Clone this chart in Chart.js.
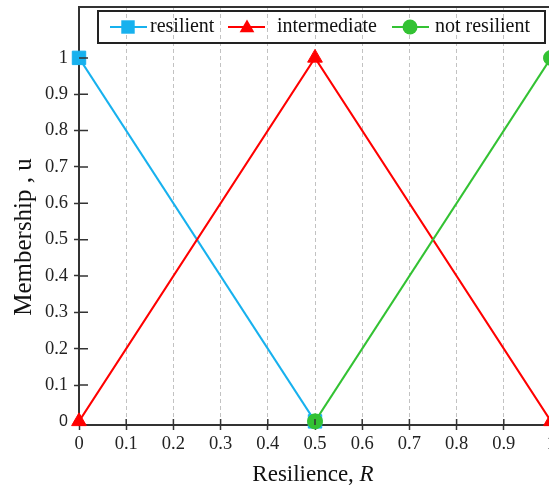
<!DOCTYPE html>
<html>
<head>
<meta charset="utf-8">
<script src="https://cdn.jsdelivr.net/npm/chart.js@4.4.1/dist/chart.umd.min.js"></script>
<style>
  html, body { margin: 0; padding: 0; background: #ffffff; overflow: hidden; }
  #wrap { width: 560px; height: 491px; }
</style>
</head>
<body>
<div id="wrap"><canvas id="chart" width="560" height="491"></canvas></div>
<script>
// Membership functions of the three resilience classes
const seriesNames = ['resilient', 'intermediate', 'not resilient'];

const resilientR = [0, 0.5];
const resilientU = [1, 0];

const intermediateR = [0, 0.5, 1];
const intermediateU = [0, 1, 0];

const notResilientR = [0.5, 1];
const notResilientU = [0, 1];

const xTickValues = [0, 0.1, 0.2, 0.3, 0.4, 0.5, 0.6, 0.7, 0.8, 0.9, 1];
const yTickValues = [0, 0.1, 0.2, 0.3, 0.4, 0.5, 0.6, 0.7, 0.8, 0.9, 1];

const xTitle = 'Resilience, ';
const xTitleVar = 'R';
const yTitle = 'Membership , u';

const BLUE = '#17B1EE';
const RED = '#FF0000';
const GREEN = '#33C233';
const AXIS = '#333333';
const SERIF = '"Liberation Serif", "Times New Roman", serif';
const SANS = '"Liberation Sans", Arial, sans-serif';

const toPoints = (xs, ys) => xs.map((x, i) => ({ x: x, y: ys[i] }));
const fmt = v => String(Math.round(v * 10) / 10);

const seriesStyles = [
  { color: BLUE, pointStyle: 'rect', radius: 9.5 },
  { color: RED, pointStyle: 'triangle', radius: 8.5 },
  { color: GREEN, pointStyle: 'circle', radius: 7.5 }
];

function makeDataset(i, points, order) {
  const s = seriesStyles[i];
  return {
    label: seriesNames[i],
    data: points,
    borderColor: s.color,
    backgroundColor: s.color,
    borderWidth: 2,
    pointStyle: s.pointStyle,
    pointRadius: s.radius,
    pointHoverRadius: s.radius,
    pointBackgroundColor: s.color,
    pointBorderColor: s.color,
    pointBorderWidth: 1,
    tension: 0,
    clip: false,
    order: order
  };
}

// draws a legend marker shaped like the dataset's point style
function legendMarker(ctx, style, x, y, r, color) {
  ctx.save();
  ctx.fillStyle = color;
  ctx.beginPath();
  if (style === 'rect') {
    const h = Math.SQRT1_2 * r;
    ctx.rect(x - h, y - h, 2 * h, 2 * h);
  } else if (style === 'triangle') {
    for (let k = 0; k < 3; k++) {
      const a = k * 2 * Math.PI / 3;
      const px = x + Math.sin(a) * r, py = y - Math.cos(a) * r;
      if (k === 0) ctx.moveTo(px, py); else ctx.lineTo(px, py);
    }
    ctx.closePath();
  } else {
    ctx.arc(x, y, r, 0, Math.PI * 2);
  }
  ctx.fill();
  ctx.restore();
}

const framePlugin = {
  id: 'frame',
  afterDatasetsDraw(chart) {
    const ctx = chart.ctx;
    const area = chart.chartArea;
    const xs = chart.scales.x, ys = chart.scales.y;
    ctx.save();
    // top frame line
    ctx.strokeStyle = AXIS;
    ctx.lineWidth = 2;
    ctx.beginPath();
    ctx.moveTo(area.left - 1, area.top);
    ctx.lineTo(area.right, area.top);
    ctx.stroke();
    // tick marks continuing inside the plot
    ctx.lineWidth = 1.5;
    ctx.beginPath();
    xTickValues.forEach(v => {
      if (v === 0) return;
      const px = xs.getPixelForValue(v);
      ctx.moveTo(px, area.bottom);
      ctx.lineTo(px, area.bottom - 6);
    });
    yTickValues.forEach(v => {
      if (v === 0) return;
      const py = ys.getPixelForValue(v);
      ctx.moveTo(area.left, py);
      ctx.lineTo(area.left + 9, py);
    });
    ctx.stroke();
    ctx.restore();
  },
  afterDraw(chart) {
    const ctx = chart.ctx;
    const area = chart.chartArea;
    ctx.save();

    // legend box
    ctx.strokeStyle = '#222222';
    ctx.lineWidth = 2;
    ctx.strokeRect(98, 11, 447, 32);
    const cy = 27;
    const lineStarts = [110, 228, 392];
    const textStarts = [150, 277, 435];
    const markerX = [128, 247, 410];
    ctx.font = '20px ' + SERIF;
    ctx.textBaseline = 'middle';
    ctx.textAlign = 'left';
    chart.data.datasets.forEach((ds, i) => {
      const s = seriesStyles[i];
      ctx.strokeStyle = s.color;
      ctx.lineWidth = 2;
      ctx.beginPath();
      ctx.moveTo(lineStarts[i], cy);
      ctx.lineTo(lineStarts[i] + 37, cy);
      ctx.stroke();
      legendMarker(ctx, s.pointStyle, markerX[i], cy + (s.pointStyle === 'triangle' ? 1 : 0), s.radius, s.color);
      ctx.fillStyle = '#111111';
      ctx.fillText(ds.label, textStarts[i], cy);
    });

    // x axis title with italic variable
    ctx.fillStyle = '#111111';
    ctx.textBaseline = 'alphabetic';
    ctx.font = '23px ' + SERIF;
    const w1 = ctx.measureText(xTitle).width;
    ctx.font = 'italic 23px ' + SERIF;
    const w2 = ctx.measureText(xTitleVar).width;
    const startX = (area.left + area.right) / 2 - 2 - (w1 + w2) / 2;
    ctx.font = '23px ' + SERIF;
    ctx.fillText(xTitle, startX, 481);
    ctx.font = 'italic 23px ' + SERIF;
    ctx.fillText(xTitleVar, startX + w1, 481);

    // y axis title
    ctx.translate(24, 237);
    ctx.rotate(-Math.PI / 2);
    ctx.font = '25px ' + SERIF;
    ctx.textAlign = 'center';
    ctx.textBaseline = 'middle';
    ctx.fillText(yTitle, 0, 0);
    ctx.restore();
  }
};

new Chart(document.getElementById('chart'), {
  type: 'line',
  data: {
    datasets: [
      makeDataset(0, toPoints(resilientR, resilientU), 2),
      makeDataset(1, toPoints(intermediateR, intermediateU), 1),
      makeDataset(2, toPoints(notResilientR, notResilientU), 0)
    ]
  },
  options: {
    responsive: false,
    animation: false,
    layout: { autoPadding: false, padding: { top: 7, right: 9, left: 0, bottom: 0 } },
    plugins: { legend: { display: false }, tooltip: { enabled: false } },
    scales: {
      x: {
        type: 'linear',
        min: 0,
        max: 1,
        afterBuildTicks: s => { s.ticks = xTickValues.map(v => ({ value: v })); },
        afterFit: s => { s.height = 66; s.paddingLeft = 0; s.paddingRight = 0; },
        grid: { color: '#c2c2c2', lineWidth: 1, tickLength: 5, tickColor: AXIS, tickWidth: 1.5 },
        border: { display: true, color: AXIS, width: 2, dash: [4, 3] },
        ticks: {
          font: { family: SERIF, size: 18.5 },
          color: '#222222',
          padding: 3,
          maxRotation: 0,
          autoSkip: false,
          callback: v => fmt(v)
        }
      },
      y: {
        type: 'linear',
        min: -0.01,
        max: 1.14,
        afterBuildTicks: s => { s.ticks = yTickValues.map(v => ({ value: v })); },
        afterFit: s => { s.width = 79; s.paddingTop = 0; s.paddingBottom = 0; },
        grid: { drawOnChartArea: false, tickLength: 5, tickColor: AXIS, tickWidth: 1.5 },
        border: { display: true, color: AXIS, width: 2 },
        ticks: {
          font: c => (c.tick && c.tick.value === 0)
            ? { family: SANS, size: 16 }
            : { family: SERIF, size: 18.5 },
          color: '#222222',
          padding: 6,
          autoSkip: false,
          callback: v => fmt(v)
        }
      }
    }
  },
  plugins: [framePlugin]
});
</script>
</body>
</html>
